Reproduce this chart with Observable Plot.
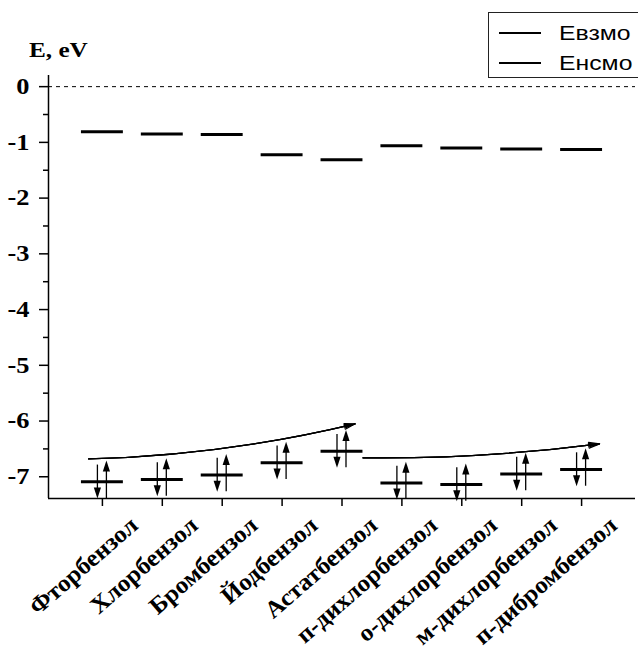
<!DOCTYPE html>
<html>
<head>
<meta charset="utf-8">
<script src="https://cdn.jsdelivr.net/npm/d3@7"></script>
<script src="https://cdn.jsdelivr.net/npm/@observablehq/plot@0.6"></script>
<style>
  html, body { margin: 0; padding: 0; background: #fff; overflow: hidden; }
  #chart { position: relative; width: 638px; height: 652px; overflow: hidden; }
  .ylabel {
    position: absolute; left: 29px; top: 38px; line-height: 21px;
    font: bold 21px "Liberation Serif", serif; white-space: nowrap;
    transform: scaleX(1.2); transform-origin: left top;
  }
  .legend {
    position: absolute; left: 488px; top: 12px; width: 220px; height: 66px;
    box-sizing: border-box; border: 1px solid #222; background: #fff;
    font: 21px "Liberation Sans", Arial, sans-serif;
  }
  .legend .row { position: absolute; left: 0; height: 30px; display: flex; align-items: center; }
  .legend .swatch { width: 42px; height: 0; border-top: 2.5px solid #000; margin-left: 10px; }
  .legend .name { margin-left: 18px; transform: scaleX(1.18); transform-origin: left center; white-space: nowrap; }
</style>
</head>
<body>
<div id="chart">
  <div class="ylabel">E, eV</div>
  <div class="legend">
    <div class="row" style="top:5px"><div class="swatch"></div><div class="name">Евзмо</div></div>
    <div class="row" style="top:35px"><div class="swatch"></div><div class="name">Енсмо</div></div>
  </div>
</div>
<script>
// Molecules along the x axis
const compounds = [
  "Фторбензол", "Хлорбензол", "Бромбензол", "Йодбензол", "Астатбензол",
  "п-дихлорбензол", "о-дихлорбензол", "м-дихлорбензол", "п-дибромбензол"
];
// Frontier orbital energies, eV
const homo = [-7.09, -7.05, -6.97, -6.75, -6.54, -7.11, -7.14, -6.95, -6.87]; // Евзмо
const lumo = [-0.81, -0.85, -0.86, -1.22, -1.31, -1.06, -1.10, -1.12, -1.13]; // Енсмо

// Axis ticks
const yTicks = [0, -1, -2, -3, -4, -5, -6, -7];
const yMinorTicks = [-0.5, -1.5, -2.5, -3.5, -4.5, -5.5, -6.5];
const xTicks = [1, 2, 3, 4, 5, 6, 7, 8, 9];

// Trend arrows over the HOMO levels (category position, energy)
const trendHalogens = [{x1: 0.77, y1: -6.68, x2: 5.22, y2: -6.05}];
const trendDisubst = [{x1: 5.35, y1: -6.66, x2: 9.30, y2: -6.41}];

const xDomain = [0.1, 9.9];
const yDomain = [-7.39, 0.2];

const pos = (d, i) => i + 1;

// Filled arrowhead whose tip sits at the symbol origin, pointing up
const arrowHead = {
  draw(context) {
    context.moveTo(0, 0);
    context.lineTo(3.6, 11);
    context.lineTo(-3.6, 11);
    context.closePath();
  }
};

const levelHalf = 0.35;   // half width of an orbital level, in category units
const spinDown = 0.30;    // reach of the down-spin arrow, eV
const spinUp = 0.38;      // reach of the up-spin arrow, eV

const trendArrow = (data, bend) => [30, 18, 8].map(a =>
  Plot.arrow(data, {x1: "x1", y1: "y1", x2: "x2", y2: "y2", bend,
    headLength: 14, headAngle: a, stroke: "#000", strokeWidth: 1.2}));

const chart = Plot.plot({
  width: 638,
  height: 652,
  marginLeft: 48,
  marginRight: 3,
  marginTop: 75,
  marginBottom: 154,
  x: {domain: xDomain},
  y: {domain: yDomain},
  style: {fontFamily: "'Liberation Serif', serif", fontWeight: "bold", background: "#fff", color: "#000"},
  marks: [
    // zero reference
    Plot.ruleY([0], {stroke: "#000", strokeWidth: 1, strokeDasharray: "4,4"}),
    // axis lines
    Plot.ruleX([xDomain[0]], {stroke: "#000", strokeWidth: 1.5}),
    Plot.ruleY([yDomain[0]], {stroke: "#000", strokeWidth: 1.5}),
    // y axis
    Plot.axisY({ticks: yTicks, tickSize: 9, tickPadding: 10, tickFormat: d => String(d),
      label: null, fontSize: 23, fontWeight: "bold", strokeWidth: 1.5}),
    Plot.axisY({ticks: yMinorTicks, tickSize: 5, tickFormat: () => "", label: null, strokeWidth: 1.5}),
    // x axis
    Plot.axisX({ticks: xTicks, tickSize: 8, tickFormat: () => "", label: null, strokeWidth: 1.5}),
    Plot.text(compounds, {x: pos, frameAnchor: "bottom", text: d => d, rotate: -41,
      textAnchor: "end", lineAnchor: "bottom", dx: 37, dy: 29,
      fontSize: 24, fontWeight: "bold", fill: "#000"}),
    // LUMO levels
    Plot.ruleY(lumo, {y: d => d, x1: (d, i) => i + 1 - levelHalf, x2: (d, i) => i + 1 + levelHalf,
      stroke: "#000", strokeWidth: 3}),
    // HOMO levels
    Plot.ruleY(homo, {y: d => d, x1: (d, i) => i + 1 - levelHalf, x2: (d, i) => i + 1 + levelHalf,
      stroke: "#000", strokeWidth: 3}),
    // electron pair: down spin
    Plot.ruleX(homo, {x: pos, y1: d => d + spinDown, y2: d => d - spinDown + 0.1, dx: -5,
      stroke: "#000", strokeWidth: 1.3}),
    Plot.dot(homo, {x: pos, y: d => d - spinDown, dx: -5, symbol: arrowHead, rotate: 180,
      fill: "#000", stroke: "none"}),
    // electron pair: up spin
    Plot.ruleX(homo, {x: pos, y1: d => d - spinDown, y2: d => d + spinUp - 0.1, dx: 4,
      stroke: "#000", strokeWidth: 1.3}),
    Plot.dot(homo, {x: pos, y: d => d + spinUp, dx: 4, symbol: arrowHead, rotate: 0,
      fill: "#000", stroke: "none"}),
    // trend arrows
    ...trendArrow(trendHalogens, -6),
    ...trendArrow(trendDisubst, -4)
  ]
});

document.getElementById("chart").prepend(chart);

// Bold serif for all texts; tick numbers get wide glyphs
chart.querySelectorAll("text").forEach(t => {
  if (!t.textContent.trim()) return;
  t.style.fontFamily = "'Liberation Serif', serif";
  t.style.fontWeight = "bold";
  const rotated = (t.getAttribute("transform") || "").includes("rotate");
  const k = rotated ? 1.05 : 1.15;
  const len = t.getComputedTextLength();
  t.setAttribute("textLength", (len * k).toFixed(1));
  t.setAttribute("lengthAdjust", "spacingAndGlyphs");
});
</script>
</body>
</html>
